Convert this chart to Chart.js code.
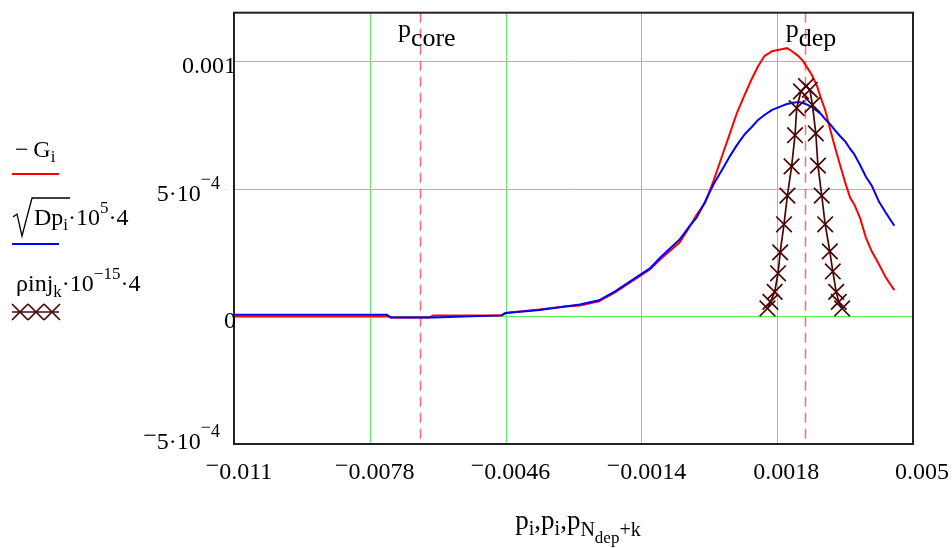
<!DOCTYPE html>
<html>
<head>
<meta charset="utf-8">
<script src="https://cdn.jsdelivr.net/npm/chart.js@4.4.1/dist/chart.umd.min.js"></script>
<style>
  html, body { margin: 0; padding: 0; background: #ffffff; }
  #wrap { width: 952px; height: 548px; position: relative; }
</style>
</head>
<body>
<div id="wrap"><canvas id="c" width="952" height="548"></canvas></div>
<script>
// Momentum grid p_i shared by -G_i and sqrt(Dp_i)
const pValues = [-0.011, -0.0074, -0.0073, -0.0064, -0.0063, -0.0047, -0.0046, -0.0038, -0.0032,
  -0.00285, -0.0024, -0.00202, -0.0017, -0.0012, -0.00096, -0.0005, -0.00026, -0.0001, 0.0001,
  0.0003, 0.00055, 0.00069, 0.00085, 0.00104, 0.0012, 0.00135, 0.0015, 0.00168, 0.0019, 0.00203,
  0.00214, 0.0023, 0.00241, 0.00253, 0.00262, 0.00274, 0.00283, 0.00293, 0.00304, 0.00316, 0.00328,
  0.00341, 0.00352, 0.00361, 0.00375, 0.00389, 0.00403, 0.0042, 0.00436, 0.00456];

// -G_i
const negG = [0, 0, -0.04e-4, -0.04e-4, 0.04e-4, 0.04e-4, 0.13e-4, 0.27e-4, 0.39e-4,
  0.43e-4, 0.59e-4, 0.94e-4, 1.29e-4, 1.84e-4, 2.23e-4, 2.89e-4, 3.52e-4, 3.98e-4, 4.45e-4,
  5.31e-4, 6.52e-4, 7.19e-4, 7.97e-4, 8.71e-4, 9.30e-4, 9.80e-4, 10.2e-4, 10.39e-4, 10.47e-4, 10.51e-4,
  10.40e-4, 10.2e-4, 10.0e-4, 9.69e-4, 9.45e-4, 9.02e-4, 8.55e-4, 8.09e-4, 7.38e-4, 6.64e-4, 5.94e-4,
  5.20e-4, 4.65e-4, 4.41e-4, 3.87e-4, 3.09e-4, 2.54e-4, 2.03e-4, 1.52e-4, 1.03e-4];

// sqrt(Dp_i)*1e5*4
const sqrtDp = [0.06e-4, 0.06e-4, -0.04e-4, -0.04e-4, -0.04e-4, 0.04e-4, 0.13e-4, 0.25e-4, 0.39e-4,
  0.47e-4, 0.63e-4, 0.98e-4, 1.33e-4, 1.88e-4, 2.30e-4, 3.01e-4, 3.55e-4, 3.87e-4, 4.49e-4,
  5.18e-4, 5.88e-4, 6.29e-4, 6.71e-4, 7.15e-4, 7.42e-4, 7.70e-4, 7.89e-4, 8.09e-4, 8.24e-4, 8.32e-4,
  8.36e-4, 8.40e-4, 8.36e-4, 8.28e-4, 8.20e-4, 8.05e-4, 7.93e-4, 7.73e-4, 7.54e-4, 7.30e-4, 7.07e-4,
  6.84e-4, 6.56e-4, 6.37e-4, 5.94e-4, 5.47e-4, 5.12e-4, 4.49e-4, 4.06e-4, 3.55e-4];

// p_(Ndep+k) and rho_inj_k * 1e-15 * 4
const pInj = [0.00157, 0.00164, 0.00174, 0.00182, 0.00187, 0.00196, 0.00204, 0.00214, 0.00222, 0.00226,
  0.00236, 0.00248, 0.00257, 0.00263, 0.00271, 0.00276, 0.00285, 0.00293, 0.00304, 0.00311, 0.00319,
  0.00325, 0.00333];
const rhoInj = [0.31e-4, 0.57e-4, 0.96e-4, 1.69e-4, 2.51e-4, 3.61e-4, 4.73e-4, 5.88e-4, 7.10e-4, 8.16e-4,
  8.82e-4, 9.02e-4, 8.88e-4, 8.29e-4, 7.17e-4, 5.91e-4, 4.73e-4, 3.61e-4, 2.55e-4, 1.76e-4, 0.96e-4,
  0.57e-4, 0.31e-4];

// Axis ticks and markers
const xTicks = [-0.011, -0.0078, -0.0046, -0.0014, 0.0018, 0.005];
const yTicks = [-5e-4, 0, 5e-4, 1e-3];
const pCore = -0.00662;
const pDep = 0.00245;

const FONT = '"Liberation Serif", "Times New Roman", serif';
const GRID_GREEN = 'rgb(96,236,96)';
const CROSS_COLOR = '#4a0606';

// Draws a run of text pieces: [text, size, dy]
function drawRich(ctx, x, y, parts, align) {
  let w = 0;
  parts.forEach(p => { ctx.font = p[1] + 'px ' + FONT; w += ctx.measureText(p[0]).width; });
  let cx = align === 'center' ? x - w / 2 : (align === 'right' ? x - w : x);
  ctx.textAlign = 'left';
  ctx.textBaseline = 'alphabetic';
  parts.forEach(p => {
    ctx.font = p[1] + 'px ' + FONT;
    ctx.fillText(p[0], cx, y + (p[2] || 0));
    cx += ctx.measureText(p[0]).width;
  });
}

// Number label pieces: plain decimals, or m·10^e for small magnitudes
function numParts(v) {
  const parts = [];
  if (v < 0) parts.push(['\u2212', 24, -6]);
  const a = Math.abs(v);
  if (a !== 0 && a < 1e-3) {
    const e = Math.floor(Math.log10(a) + 1e-9);
    const m = Math.round(a / Math.pow(10, e));
    parts.push([m + '\u00B710', 24, 0]);
    parts.push(['\u2212', 18, -16]);
    parts.push([String(-e), 18, -12]);
  } else {
    parts.push([String(parseFloat(a.toFixed(5))), 24, 0]);
  }
  return parts;
}

const decorPlugin = {
  id: 'decor',
  beforeDatasetsDraw(chart) {
    const { ctx, chartArea: a, scales: { x, y } } = chart;
    ctx.save();
    // green grid at interior ticks
    ctx.strokeStyle = GRID_GREEN;
    ctx.lineWidth = 1;
    xTicks.slice(1, -1).forEach(v => {
      const px = Math.round(x.getPixelForValue(v)) + 0.5;
      ctx.beginPath(); ctx.moveTo(px, a.top); ctx.lineTo(px, a.bottom); ctx.stroke();
    });
    yTicks.slice(1).forEach(v => {
      const py = Math.round(y.getPixelForValue(v)) + 0.5;
      ctx.beginPath(); ctx.moveTo(a.left, py); ctx.lineTo(a.right, py); ctx.stroke();
    });
    // dashed markers at p_core and p_dep
    ctx.strokeStyle = 'rgba(255,100,100,0.95)';
    ctx.lineWidth = 1.5;
    ctx.setLineDash([10, 6]);
    [pCore, pDep].forEach(v => {
      const px = Math.round(x.getPixelForValue(v)) + 0.5;
      ctx.beginPath(); ctx.moveTo(px, a.top); ctx.lineTo(px, a.bottom); ctx.stroke();
    });
    ctx.restore();
  },
  afterDraw(chart) {
    const { ctx, chartArea: a, scales: { x, y } } = chart;
    ctx.save();
    // frame
    ctx.strokeStyle = '#222';
    ctx.lineWidth = 2;
    ctx.strokeRect(a.left, a.top, a.right - a.left, a.bottom - a.top);
    ctx.fillStyle = '#000';

    // x tick labels
    xTicks.forEach(v => {
      drawRich(ctx, x.getPixelForValue(v) + (v < 0 ? 5 : 9), a.bottom + 35, numParts(v), 'center');
    });
    // y tick labels
    yTicks.forEach(v => {
      const py = y.getPixelForValue(v);
      const dy = v === yTicks[0] ? 5 : 12;
      const rightEdge = (v !== 0 && Math.abs(v) < 1e-3) ? a.left - 14 : a.left + 2;
      drawRich(ctx, rightEdge, py + dy, numParts(v), 'right');
    });

    // marker labels
    drawRich(ctx, x.getPixelForValue(pCore) - 22, 37, [['p', 26, 0], ['core', 26, 9]], 'left');
    drawRich(ctx, x.getPixelForValue(pDep) - 19, 37, [['p', 26, 0], ['dep', 26, 9]], 'left');

    // axis title
    drawRich(ctx, 578, 529, [['p', 27, 0], ['i', 20, 6], [',', 27, 0], ['p', 27, 0], ['i', 20, 6],
      [',', 27, 0], ['p', 27, 0], ['N', 20, 7], ['dep', 17, 14], ['+k', 20, 7]], 'center');

    // legend: -G_i
    drawRich(ctx, 15, 157, [['\u2212', 24, 0], ['\u2009G', 24, 0], ['i', 17, 5]], 'left');
    ctx.strokeStyle = '#ff0000'; ctx.lineWidth = 2; ctx.setLineDash([]);
    ctx.beginPath(); ctx.moveTo(12, 174); ctx.lineTo(59, 174); ctx.stroke();

    // legend: sqrt(Dp_i)*10^5*4
    ctx.strokeStyle = '#000'; ctx.lineWidth = 1.3;
    ctx.beginPath(); ctx.moveTo(13, 217); ctx.lineTo(17, 214); ctx.lineTo(22, 236);
    ctx.lineTo(32, 198); ctx.lineTo(70, 198); ctx.stroke();
    drawRich(ctx, 34, 225, [['Dp', 24, 0], ['i', 17, 5], ['\u00B710', 24, 0], ['5', 17, -12], ['\u00B74', 24, 0]], 'left');
    ctx.strokeStyle = '#0000ff'; ctx.lineWidth = 2;
    ctx.beginPath(); ctx.moveTo(12, 244); ctx.lineTo(59, 244); ctx.stroke();

    // legend: rho_inj_k*10^-15*4
    drawRich(ctx, 16, 291, [['\u03C1inj', 24, 0], ['k', 17, 6], ['\u00B710', 24, 0], ['\u221215', 17, -12], ['\u00B74', 24, 0]], 'left');
    ctx.strokeStyle = CROSS_COLOR; ctx.lineWidth = 1.7;
    ctx.beginPath(); ctx.moveTo(12, 312); ctx.lineTo(59, 312); ctx.stroke();
    [20, 36, 52].forEach(cx => {
      ctx.beginPath();
      ctx.moveTo(cx - 8, 304); ctx.lineTo(cx + 8, 320);
      ctx.moveTo(cx - 8, 320); ctx.lineTo(cx + 8, 304);
      ctx.stroke();
    });
    ctx.restore();
  }
};

new Chart(document.getElementById('c').getContext('2d'), {
  type: 'scatter',
  data: {
    datasets: [
      {
        label: '-G',
        data: pValues.map((p, i) => ({ x: p, y: negG[i] })),
        showLine: true, borderColor: '#ff0000', borderWidth: 2, pointRadius: 0, tension: 0, order: 3
      },
      {
        label: 'sqrt(Dp)',
        data: pValues.map((p, i) => ({ x: p, y: sqrtDp[i] })),
        showLine: true, borderColor: '#0000ff', borderWidth: 2, pointRadius: 0, tension: 0, order: 2
      },
      {
        label: 'rho inj',
        data: pInj.map((p, i) => ({ x: p, y: rhoInj[i] })),
        showLine: true, borderColor: CROSS_COLOR, borderWidth: 1.7, tension: 0,
        pointStyle: 'crossRot', pointRadius: 11, pointBorderWidth: 1.7,
        pointBorderColor: CROSS_COLOR, pointBackgroundColor: CROSS_COLOR, order: 1
      }
    ]
  },
  options: {
    responsive: false,
    animation: false,
    devicePixelRatio: 1,
    layout: { padding: { left: 234, top: 10, right: 39, bottom: 104 } },
    plugins: { legend: { display: false }, tooltip: { enabled: false } },
    scales: {
      x: {
        type: 'linear', min: -0.011, max: 0.005,
        afterBuildTicks: s => { s.ticks = xTicks.map(v => ({ value: v })); },
        ticks: { display: false },
        grid: { display: false, drawTicks: false },
        border: { display: false }
      },
      y: {
        type: 'linear', min: -5e-4, max: 0.00119,
        afterBuildTicks: s => { s.ticks = yTicks.map(v => ({ value: v })); },
        ticks: { display: false },
        grid: { display: false, drawTicks: false },
        border: { display: false }
      }
    }
  },
  plugins: [decorPlugin]
});
</script>
</body>
</html>
